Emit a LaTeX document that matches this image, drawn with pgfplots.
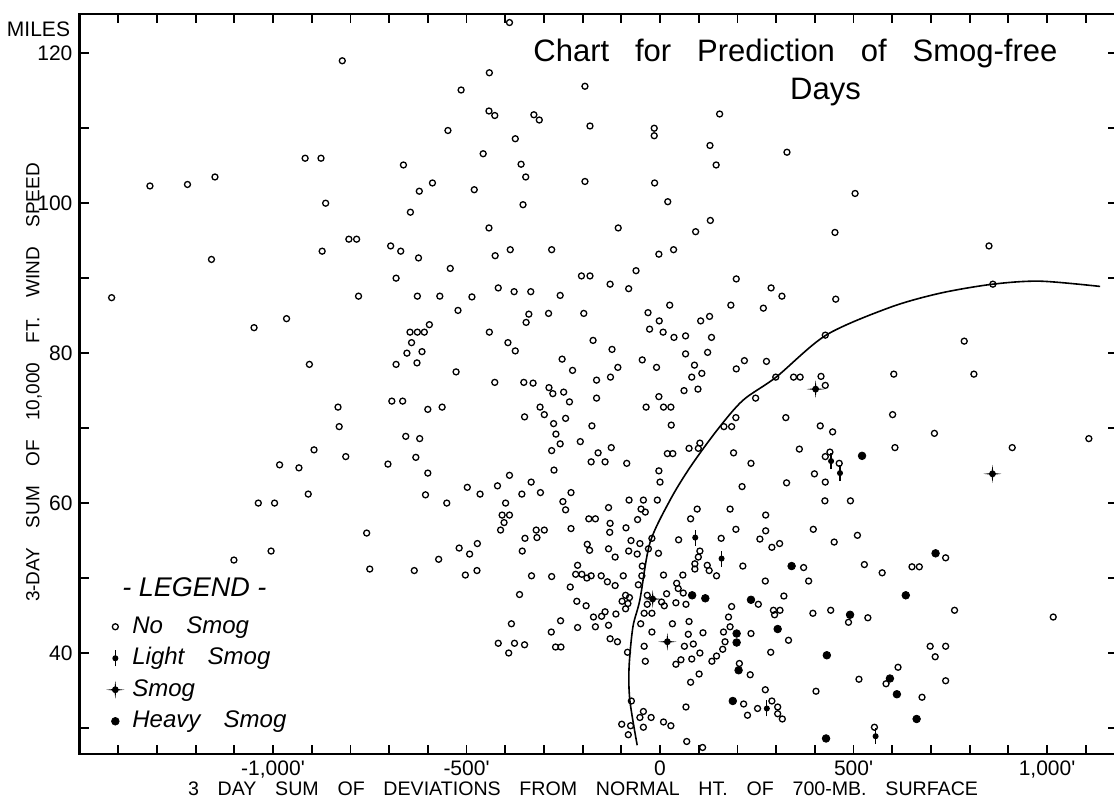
\documentclass[border=0pt]{standalone}
\usepackage{fontspec}
\setmainfont{Liberation Sans}
\newfontfamily\legfont{Liberation Sans}[WordSpace=3.5]
\usepackage{pgfplots}
\pgfplotsset{compat=1.18}

% smog: filled dot with four thin arms
\pgfdeclareplotmark{smogstar}{%
  \pgfpathmoveto{\pgfqpoint{0pt}{\pgfplotmarksize}}%
  \pgfpathlineto{\pgfqpoint{0.1\pgfplotmarksize}{0.1\pgfplotmarksize}}%
  \pgfpathlineto{\pgfqpoint{\pgfplotmarksize}{0pt}}%
  \pgfpathlineto{\pgfqpoint{0.1\pgfplotmarksize}{-0.1\pgfplotmarksize}}%
  \pgfpathlineto{\pgfqpoint{0pt}{-\pgfplotmarksize}}%
  \pgfpathlineto{\pgfqpoint{-0.1\pgfplotmarksize}{-0.1\pgfplotmarksize}}%
  \pgfpathlineto{\pgfqpoint{-\pgfplotmarksize}{0pt}}%
  \pgfpathlineto{\pgfqpoint{-0.1\pgfplotmarksize}{0.1\pgfplotmarksize}}%
  \pgfpathclose\pgfusepathqfill
  \pgfpathcircle{\pgfpointorigin}{0.38\pgfplotmarksize}\pgfusepathqfill}
% light smog: dot with a vertical bar
\pgfdeclareplotmark{lightsmog}{%
  \pgfpathcircle{\pgfpointorigin}{0.38\pgfplotmarksize}\pgfusepathqfill
  \pgfpathmoveto{\pgfqpoint{0pt}{-\pgfplotmarksize}}%
  \pgfpathlineto{\pgfqpoint{0pt}{\pgfplotmarksize}}\pgfusepathqstroke}

\begin{document}
\begin{tikzpicture}
\begin{axis}[
  at={(39.75pt,24pt)}, anchor=south west,
  scale only axis, width=518.6pt, height=370pt,
  xmin=-1500, xmax=1180, ymin=26.53, ymax=125.24,
  axis line style={line width=1.3pt},
  xtick={-1000,-500,0,500,1000},
  xticklabels={{-1,000\textquotesingle},{-500\textquotesingle},{0},{500\textquotesingle},{1,000\textquotesingle}},
  minor xtick={-1400,-1300,...,1100},
  ytick={40,60,80,100,120},
  yticklabels={40,60,80,100,120},
  minor ytick={30,50,70,90,110},
  major tick length=4.5pt, minor tick length=4.5pt,
  tick style={black, line width=0.9pt},
  tick label style={font=\fontsize{10.5}{12}\selectfont},
  legend style={at={(0.0255,0.188)}, anchor=north west, draw=none, fill=none,
    inner sep=0pt, row sep=4.25pt,
    font=\legfont\itshape\fontsize{12}{14}\selectfont,
    nodes={inner sep=0pt, text height=9pt, text depth=2.5pt},
    /tikz/every odd column/.append style={column sep=4pt}},
  legend cell align=left,
]
% boundary curve
\addplot[forget plot, smooth, line width=0.8pt] coordinates {
  (-59,27.7) (-78,33.7) (-80,38.1) (-70,43.5) (-52,47.1) (-26,54.7)
  (26,60.4) (78,64.8) (147,69.7) (214,73.7) (300,76.8) (429,82.4)
  (594,86.1) (724,88.0) (860,89.2) (982,89.6) (1137,88.9)};

% no smog
\addplot[only marks, mark=o, mark size=1.5pt, mark options={line width=0.65pt}] table {
x y
-821 119.0
-917 106.0
-876 106.0
-1318 102.3
-1221 102.5
-1150 103.5
-864 100.0
-389 124.1
-441 117.4
-194 115.6
-514 115.1
-442 112.3
-427 111.7
-326 111.8
-312 111.1
154 111.9
-548 109.7
-181 110.3
-15 110.0
-15 109.0
-374 108.6
129 107.7
-457 106.6
-663 105.1
-359 105.2
145 105.1
-347 103.5
-588 102.7
-622 101.6
-480 101.8
-194 102.9
-14 102.7
20 100.2
-354 99.8
328 106.8
504 101.3
-804 95.2
-784 95.2
-873 93.6
-1159 92.5
-1417 87.4
-779 87.6
-965 84.6
-1049 83.4
-906 78.5
-832 72.8
-645 98.8
-442 96.7
-108 96.7
130 97.7
92 96.2
-696 94.3
-670 93.6
-624 92.7
-426 93.0
-387 93.8
-280 93.8
-3 93.2
35 93.8
-542 91.3
-682 90.0
-203 90.3
-181 90.3
-62 91.0
-129 89.2
-81 88.6
197 89.9
-418 88.7
-377 88.2
-334 88.2
-258 87.7
-627 87.6
-569 87.6
-486 87.5
-522 85.7
-339 85.2
-346 84.1
-288 85.3
-197 85.3
-31 85.4
25 86.4
183 86.4
-2 84.3
105 84.3
128 84.9
-596 83.8
-646 82.8
-627 82.8
-609 82.8
-642 81.4
-654 80.0
-615 80.2
-628 78.7
-682 78.5
-441 82.8
-393 81.4
-374 80.3
-27 83.2
8 82.8
36 82.1
66 82.3
133 82.1
-173 81.7
-124 80.5
66 79.9
123 80.1
-253 79.2
-226 77.7
-109 78.1
-46 79.1
-9 78.1
89 78.4
108 77.3
82 76.8
197 77.9
218 79.0
-527 77.5
-427 76.1
-352 76.1
-328 76.0
-287 75.4
-277 74.6
-249 74.8
-234 73.5
-164 76.4
-128 76.8
-164 74.0
62 75.0
98 75.2
-3 74.2
-693 73.6
-665 73.6
-600 72.5
-563 72.8
-310 72.8
-36 72.8
9 72.8
28 72.8
452 96.1
850 94.3
860 89.2
287 88.7
315 87.6
267 86.0
454 87.2
427 82.4
786 81.6
275 78.9
299 76.8
345 76.8
362 76.8
416 76.9
427 75.7
604 77.2
811 77.2
247 74.0
-829 70.2
-894 67.1
-983 65.1
-933 64.7
-812 66.2
-909 61.2
-1038 60.0
-996 60.0
-758 56.0
-1005 53.6
-1101 52.4
-750 51.2
-350 71.5
-299 71.8
-275 70.6
-244 71.3
-176 70.3
29 70.4
165 70.2
185 70.2
196 71.4
-657 68.9
-621 68.6
-269 69.2
-258 67.9
-206 68.2
-280 67.0
-160 66.7
-126 67.4
-178 65.5
-142 65.5
-86 65.3
19 66.6
33 66.6
75 67.3
99 67.3
103 68.0
190 66.7
235 65.3
-703 65.2
-631 66.1
-600 64.0
-606 61.1
-551 60.0
-274 64.4
-389 63.7
-498 62.1
-465 61.2
-420 62.3
-333 62.8
-357 61.2
-309 61.4
-230 61.4
-251 60.2
-244 59.1
-399 60.0
-408 58.4
-389 58.4
-403 57.4
-412 56.4
-320 56.4
-299 56.4
-318 55.4
-349 55.3
-230 56.6
-3 64.3
0 62.8
-7 60.4
-80 60.4
-43 60.4
-133 59.4
-49 59.2
-38 58.8
-184 57.9
-167 57.9
-129 57.3
-130 56.1
-88 56.7
-58 57.8
-75 55.0
-52 54.6
-21 55.3
-30 53.9
-81 53.6
-59 53.2
-4 53.3
-133 53.9
-116 52.8
-188 54.5
-182 53.7
-472 54.6
-519 54.0
-492 53.2
-572 52.5
-356 53.6
-635 51.0
-503 50.4
-473 51.0
-332 50.3
-280 50.2
-213 51.7
-218 50.5
-202 50.5
-189 50.0
-178 50.3
-152 50.3
-136 49.5
-116 49.0
-95 50.3
-46 51.6
-47 50.3
-56 49.1
9 50.4
59 50.4
43 49.3
47 48.6
60 48.0
17 47.9
41 46.7
67 46.5
-232 48.8
-363 47.8
-215 46.9
-191 46.3
-89 47.7
-79 47.4
-98 46.9
-83 46.6
-89 45.9
-33 47.7
-33 46.5
4 46.8
11 46.3
185 46.2
48 55.1
96 59.2
79 57.9
181 59.2
212 62.2
158 55.3
196 56.5
103 53.6
99 52.8
90 51.9
90 51.2
122 51.7
127 51.0
146 50.3
214 51.6
325 71.4
414 70.3
446 69.5
601 71.8
709 69.3
1108 68.6
360 67.2
607 67.4
910 67.4
439 66.8
427 66.2
463 65.3
399 63.9
327 62.7
427 62.8
426 60.3
492 60.3
273 58.4
273 56.3
258 55.2
289 54.1
309 54.6
396 56.5
450 54.8
510 55.7
371 51.4
272 49.6
384 49.6
528 51.8
574 50.7
651 51.5
670 51.5
738 52.7
254 46.5
320 47.6
-384 43.9
-257 44.3
-281 42.8
-213 43.4
-418 41.3
-376 41.3
-350 41.1
-391 40.0
-270 40.8
-256 40.8
-172 44.8
-151 44.9
-142 45.5
-167 43.5
-133 43.7
-114 45.2
-129 41.9
-110 41.5
-84 40.1
-74 33.6
-99 30.5
-76 30.3
-82 29.1
-52 31.4
-43 32.2
-23 31.4
-43 30.1
9 30.8
28 30.3
69 28.2
110 27.4
67 32.8
-50 43.9
-41 45.3
-21 45.3
-21 42.8
-41 40.9
-38 38.9
32 43.9
75 44.2
73 42.5
111 42.7
63 40.9
86 41.2
103 40.0
82 39.2
54 39.1
41 38.5
101 37.2
79 36.1
164 42.8
181 43.5
177 44.8
168 41.5
162 40.5
146 39.6
134 38.9
205 38.6
216 33.2
293 45.7
310 45.7
296 45.1
395 45.3
441 45.7
487 44.1
537 44.7
761 45.7
1016 44.8
235 42.6
332 41.7
286 40.1
233 37.1
698 40.9
738 40.9
711 39.5
615 38.1
514 36.5
584 35.9
738 36.3
403 34.9
677 34.1
272 35.1
289 33.6
304 32.8
252 32.6
226 31.7
304 31.9
316 31.2
554 30.1
};
\addlegendentry{No Smog}

% light smog
\addplot[only marks, mark=lightsmog, mark size=4pt, mark options={line width=0.6pt}] table {
x y
91 55.4
159 52.6
442 65.6
465 64.0
276 32.6
557 28.9
};
\addlegendentry{Light Smog}

% smog
\addplot[only marks, mark=smogstar, mark size=4.5pt] table {
x y
402 75.2
-19 47.2
859 63.9
19 41.5
};
\addlegendentry{Smog}

% heavy smog
\addplot[only marks, mark=*, mark size=1.9pt] table {
x y
83 47.7
117 47.3
235 47.1
522 66.3
340 51.6
712 53.3
635 47.7
198 42.6
198 41.4
203 37.7
188 33.6
491 45.1
304 43.2
431 39.7
594 36.6
612 34.5
663 31.2
429 28.6
};
\addlegendentry{Heavy Smog}
\end{axis}
\pgfresetboundingbox
\useasboundingbox (0pt,0pt) rectangle (557pt,401pt);
\node[font=\fontsize{15.5}{18}\selectfont, anchor=base west, inner sep=0pt]
  at (266.5pt,370pt) {\makebox[262pt][s]{Chart for Prediction of Smog-free}};
\node[font=\fontsize{15.5}{18}\selectfont, anchor=base, inner sep=0pt]
  at (412.75pt,351pt) {Days};
\node[font=\fontsize{10.5}{12}\selectfont, inner sep=0pt] at (19.25pt,386.25pt) {MILES};
\node[rotate=90, font=\fontsize{9.5}{12}\selectfont, inner sep=0pt]
  at (17pt,209.75pt) {\makebox[219.5pt][s]{3-DAY SUM OF 10,000 FT. WIND SPEED}};
\node[font=\fontsize{9.8}{12}\selectfont, anchor=base, inner sep=0pt]
  at (291.5pt,3pt) {\makebox[395pt][s]{3 DAY SUM OF DEVIATIONS FROM NORMAL HT. OF 700-MB. SURFACE}};
\node[font=\itshape\fontsize{13.5}{15}\selectfont, inner sep=0pt]
  at (97.25pt,107.5pt) {- LEGEND -};
\end{tikzpicture}
\end{document}
